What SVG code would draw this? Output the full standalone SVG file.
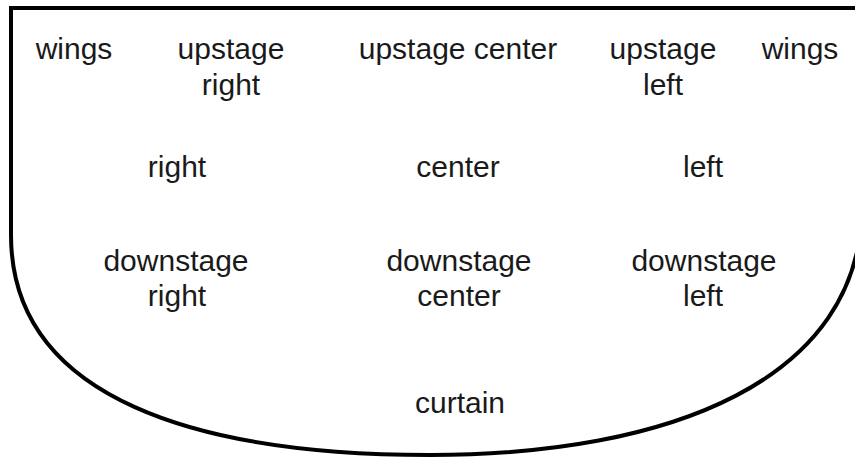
<svg xmlns="http://www.w3.org/2000/svg" width="855" height="462" viewBox="0 0 855 462">
  <style>
    .outline { fill: none; stroke: #000; stroke-width: 4; stroke-linejoin: miter; }
    .lbl { font-family: "Liberation Sans", Arial, sans-serif; font-size: 30px; fill: #1a1a1a; text-anchor: middle; }
  </style>
  <rect width="855" height="462" fill="#fff"/>

  <!-- stage outline: straight back wall, rounded apron toward the audience -->
  <g id="stage">
    <path class="outline" d="M 870 8 L 11 8 L 11 235 C 11 400, 200 455, 430 455 C 670 455, 862 380, 862 205"/>
  </g>

  <g id="wings-right">
    <text class="lbl" x="74" y="59">wings</text>
  </g>
  <g id="upstage-right">
    <text class="lbl" x="231" y="59">upstage</text>
    <text class="lbl" x="231" y="95">right</text>
  </g>
  <g id="upstage-center">
    <text class="lbl" x="458" y="59">upstage center</text>
  </g>
  <g id="upstage-left">
    <text class="lbl" x="663" y="59">upstage</text>
    <text class="lbl" x="663" y="95">left</text>
  </g>
  <g id="wings-left">
    <text class="lbl" x="800" y="59">wings</text>
  </g>

  <g id="right">
    <text class="lbl" x="177" y="177">right</text>
  </g>
  <g id="center">
    <text class="lbl" x="458" y="177">center</text>
  </g>
  <g id="left">
    <text class="lbl" x="703" y="177">left</text>
  </g>

  <g id="downstage-right">
    <text class="lbl" x="176" y="271">downstage</text>
    <text class="lbl" x="177" y="306">right</text>
  </g>
  <g id="downstage-center">
    <text class="lbl" x="459" y="271">downstage</text>
    <text class="lbl" x="459" y="306">center</text>
  </g>
  <g id="downstage-left">
    <text class="lbl" x="704" y="271">downstage</text>
    <text class="lbl" x="703" y="306">left</text>
  </g>

  <g id="curtain">
    <text class="lbl" x="460" y="413">curtain</text>
  </g>
</svg>
